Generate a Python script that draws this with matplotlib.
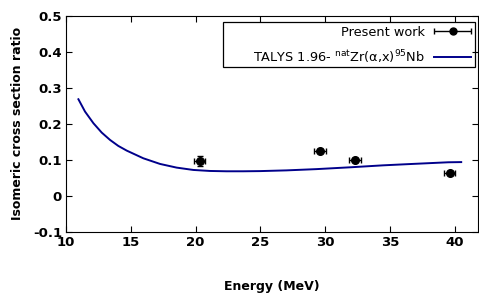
import matplotlib.pyplot as plt
from matplotlib.patches import Rectangle
from matplotlib.container import ErrorbarContainer
from matplotlib.legend_handler import HandlerErrorbar
import numpy as np

# measured isomeric ratios
energy = [20.3, 29.6, 32.3, 39.6]
energy_err = [0.45, 0.5, 0.45, 0.45]
ratio = [0.097, 0.126, 0.101, 0.065]
ratio_err = [0.014, 0.005, 0.004, 0.004]

# TALYS 1.96 curve
talys_e = [10.95, 11.46, 12.11, 12.75, 13.39, 14.03, 14.68, 15.96, 17.25, 18.53,
           19.82, 21.10, 22.39, 23.67, 24.96, 27.0, 29.33, 31.9, 34.47, 36.5,
           38.3, 39.5, 40.5]
talys_r = [0.2685, 0.2343, 0.2019, 0.1759, 0.1556, 0.1389, 0.1259, 0.1046, 0.0889, 0.0787,
           0.0722, 0.0694, 0.0685, 0.0685, 0.0690, 0.0710, 0.0745, 0.0795, 0.0850, 0.0885,
           0.0915, 0.0935, 0.0940]

title_legend = r'TALYS 1.96- $^{\rm nat}$Zr(α,x)$^{95}$Nb'

fig = plt.figure(figsize=(4.79, 2.94), dpi=100)
ax = fig.add_axes([0.138, 0.211, 0.86, 0.735])

line, = ax.plot(talys_e, talys_r, color='#00008B', lw=1.4)
ax.errorbar(energy, ratio, xerr=energy_err, yerr=ratio_err, fmt='o', color='black',
            ms=5.5, capsize=2.5, elinewidth=1)
# legend proxy with horizontal bar only
proxy = ax.errorbar([np.nan], [np.nan], xerr=[1], fmt='o', color='black',
                    ms=5, capsize=2.5, elinewidth=1)

ax.set_xlim(10, 41.8)
ax.set_ylim(-0.1, 0.5)
ax.set_xticks([10, 15, 20, 25, 30, 35, 40])
ax.set_yticks([-0.1, 0, 0.1, 0.2, 0.3, 0.4, 0.5])
ax.set_yticklabels(['-0.1', '0', '0.1', '0.2', '0.3', '0.4', '0.5'])
ax.tick_params(direction='in', top=True, right=True, length=4, labelsize=9.5, pad=3)
for lab in ax.get_xticklabels() + ax.get_yticklabels():
    lab.set_fontweight('bold')

ax.set_xlabel('Energy (MeV)', fontsize=9, fontweight='bold', labelpad=22)
ax.set_ylabel('Isomeric cross section ratio', fontsize=9, fontweight='bold', labelpad=6)

# gnuplot-like key box
ax.add_patch(Rectangle((0.380, 0.765), 0.613, 0.206, transform=ax.transAxes,
                       fill=False, edgecolor='black', lw=0.9, zorder=5))
leg = ax.legend([proxy, line], ['Present work', title_legend], loc='upper right',
                bbox_to_anchor=(0.993, 0.971), borderaxespad=0, borderpad=0.3,
                fontsize=9.3, markerfirst=False, frameon=False,
                handlelength=2.9, labelspacing=0.7, handletextpad=0.7,
                handler_map={ErrorbarContainer: HandlerErrorbar(xerr_size=1.4)})

plt.savefig('out.png', dpi=100)
